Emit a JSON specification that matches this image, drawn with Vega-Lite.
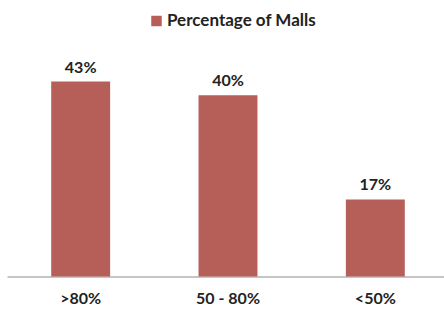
{
  "$schema": "https://vega.github.io/schema/vega-lite/v6.json",
  "autosize": {"type": "none"},
  "width": 442,
  "height": 204,
  "padding": {"top": 72.5, "left": 7, "right": 0, "bottom": 40},
  "background": "white",
  "config": {"view": {"stroke": null}, "font": "Lato"},
  "data": {"values": [
    {"category": ">80%", "series": "Percentage of Malls", "value": 43, "label": "43%"},
    {"category": "50 - 80%", "series": "Percentage of Malls", "value": 40, "label": "40%"},
    {"category": "<50%", "series": "Percentage of Malls", "value": 17, "label": "17%"}
  ]},
  "encoding": {
    "x": {"field": "category", "type": "nominal", "sort": null,
      "scale": {"paddingInner": 0.6, "paddingOuter": 0.3},
      "axis": {"title": null, "labelAngle": 0, "ticks": false, "domainColor": "#8c8c8c", "domainWidth": 1.2,
        "labelFont": "Lato", "labelFontWeight": "bold", "labelFontSize": 16, "labelColor": "#222222", "labelPadding": 14}},
    "y": {"field": "value", "type": "quantitative", "scale": {"domain": [0, 45]}, "axis": null}
  },
  "layer": [
    {"mark": {"type": "bar", "color": "#b65f59"},
     "encoding": {"color": {"field": "series", "type": "nominal", "scale": {"range": ["#b65f59"]},
       "legend": {"title": null, "orient": "none", "legendX": 141, "legendY": -60, "symbolType": "square", "symbolSize": 110,
         "labelFont": "Lato", "labelFontWeight": "bold", "labelFontSize": 17, "labelColor": "#222222", "labelOffset": 2}}}},
    {"mark": {"type": "text", "dy": -9, "baseline": "alphabetic", "font": "Lato", "fontWeight": "bold", "fontSize": 16, "color": "#222222"},
     "encoding": {"text": {"field": "label"}}}
  ]
}
